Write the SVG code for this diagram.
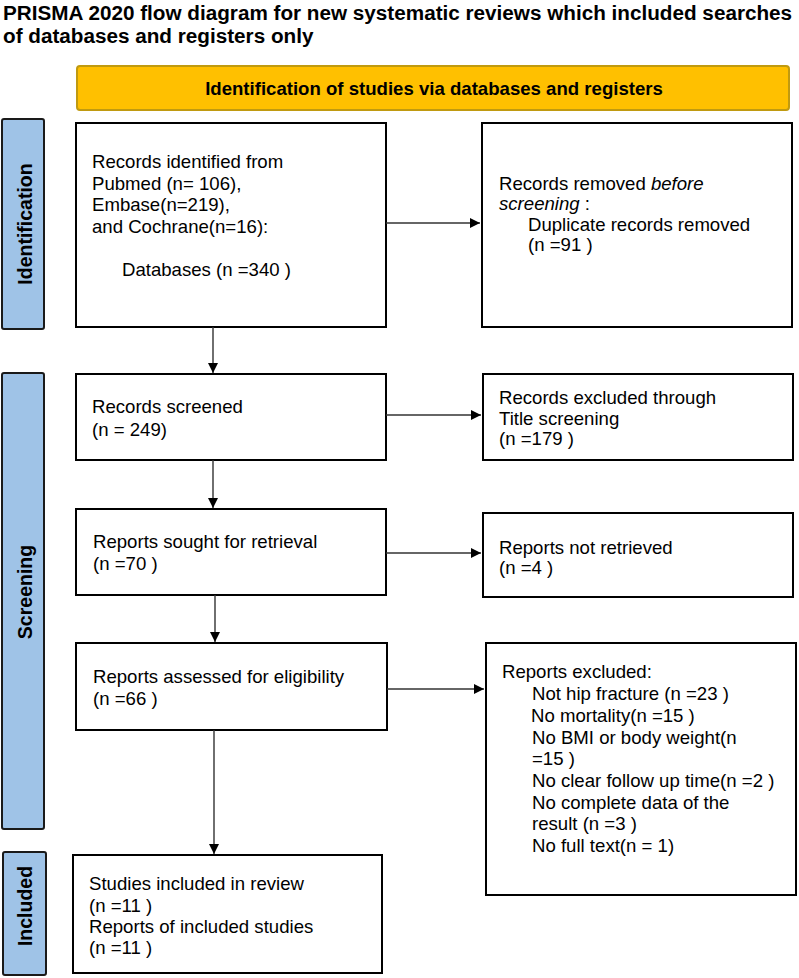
<svg xmlns="http://www.w3.org/2000/svg" width="799" height="978" viewBox="0 0 799 978">
<style>
text{font-family:"Liberation Sans",Arial,sans-serif;fill:#000}
.title{font-size:20.7px;font-weight:bold}
.t{font-size:18.6px}
.side{font-size:19.5px;font-weight:bold}
.box{fill:#fff;stroke:#000;stroke-width:2}
.lab{fill:#9fc3e7;stroke:#1a1a1a;stroke-width:2}
.con{stroke:#333;stroke-width:1.4;fill:none;marker-end:url(#ah)}
</style>
<defs>
<marker id="ah" viewBox="0 0 10 10" refX="10" refY="5" markerWidth="10" markerHeight="10" markerUnits="userSpaceOnUse" orient="auto">
<path d="M0,0 L10,5 L0,10 z" fill="#000"/>
</marker>
</defs>
<rect width="799" height="978" fill="#fff"/>
<g id="title">
<text class="title" x="3" y="19.5">PRISMA 2020 flow diagram for new systematic reviews which included searches</text>
<text class="title" x="3" y="43">of databases and registers only</text>
</g>
<g id="banner">
<rect x="77" y="66" width="712" height="44" rx="3" fill="#ffc000" stroke="#c09a10" stroke-width="2"/>
<text x="434" y="95" text-anchor="middle" style="font-size:18.6px;font-weight:bold">Identification of studies via databases and registers</text>
</g>
<g id="lab-identification">
<rect class="lab" x="2" y="119" width="42" height="210" rx="2"/>
<text class="side" transform="translate(32,224) rotate(-90)" text-anchor="middle">Identification</text>
</g>
<g id="lab-screening">
<rect class="lab" x="2" y="373" width="42" height="456" rx="2"/>
<text class="side" transform="translate(32,592) rotate(-90)" text-anchor="middle">Screening</text>
</g>
<g id="lab-included">
<rect class="lab" x="3" y="852" width="43" height="123" rx="2"/>
<text class="side" transform="translate(32,906) rotate(-90)" text-anchor="middle">Included</text>
</g>
<g id="n-identified">
<rect class="box" x="76" y="123" width="310" height="204"/>
<text class="t" x="92" y="168">Records identified from</text>
<text class="t" x="92" y="189.5">Pubmed (n= 106),</text>
<text class="t" x="92" y="211">Embase(n=219),</text>
<text class="t" x="92" y="232.5">and Cochrane(n=16):</text>
<text class="t" x="122" y="276">Databases (n =340 )</text>
</g>
<g id="n-removed">
<rect class="box" x="482" y="123" width="310" height="204"/>
<text class="t" x="499" y="190">Records removed <tspan font-style="italic">before</tspan></text>
<text class="t" x="499" y="210"><tspan font-style="italic">screening</tspan>  :</text>
<text class="t" x="528" y="230.5">Duplicate records removed</text>
<text class="t" x="528" y="250.5">(n =91 )</text>
</g>
<g id="n-screened">
<rect class="box" x="76" y="374" width="310" height="86"/>
<text class="t" x="92" y="413">Records screened</text>
<text class="t" x="92" y="436">(n = 249)</text>
</g>
<g id="n-excluded-title">
<rect class="box" x="483" y="374" width="310" height="86"/>
<text class="t" x="499" y="403.5">Records excluded through</text>
<text class="t" x="499" y="424.5">Title screening</text>
<text class="t" x="499" y="445">(n =179 )</text>
</g>
<g id="n-sought">
<rect class="box" x="76" y="509" width="310" height="86"/>
<text class="t" x="93" y="548">Reports sought for retrieval</text>
<text class="t" x="93" y="570">(n =70 )</text>
</g>
<g id="n-not-retrieved">
<rect class="box" x="483" y="513" width="310" height="84"/>
<text class="t" x="499" y="553.5">Reports not retrieved</text>
<text class="t" x="499" y="573.5">(n =4 )</text>
</g>
<g id="n-assessed">
<rect class="box" x="76" y="643" width="311" height="87"/>
<text class="t" x="93" y="683">Reports assessed for eligibility</text>
<text class="t" x="93" y="705">(n =66 )</text>
</g>
<g id="n-reports-excluded">
<rect class="box" x="486" y="643" width="310" height="252"/>
<text class="t" x="502" y="678">Reports excluded:</text>
<text class="t" x="532" y="700">Not hip fracture (n =23 )</text>
<text class="t" x="531" y="721.5">No mortality(n =15 )</text>
<text class="t" x="532" y="743.5">No BMI or body weight(n</text>
<text class="t" x="532" y="765">=15 )</text>
<text class="t" x="532" y="787">No clear follow up time(n =2 )</text>
<text class="t" x="532" y="808.5">No complete data of the</text>
<text class="t" x="532" y="830">result (n =3 )</text>
<text class="t" x="532" y="851.5">No full text(n = 1)</text>
</g>
<g id="n-included">
<rect class="box" x="73" y="855" width="309" height="118"/>
<text class="t" x="89" y="889.5">Studies included in review</text>
<text class="t" x="89" y="911.5">(n =11 )</text>
<text class="t" x="89" y="933">Reports of included studies</text>
<text class="t" x="89" y="954">(n =11 )</text>
</g>
<g id="connectors">
<line class="con" x1="386" y1="223" x2="480" y2="223"/>
<line class="con" x1="213" y1="327" x2="213" y2="373"/>
<line class="con" x1="386" y1="415" x2="481" y2="415"/>
<line class="con" x1="213" y1="460" x2="213" y2="508"/>
<line class="con" x1="386" y1="553" x2="481" y2="553"/>
<line class="con" x1="215" y1="595" x2="215" y2="642"/>
<line class="con" x1="387" y1="689" x2="484" y2="689"/>
<line class="con" x1="214" y1="730" x2="214" y2="854"/>
</g>
</svg>
